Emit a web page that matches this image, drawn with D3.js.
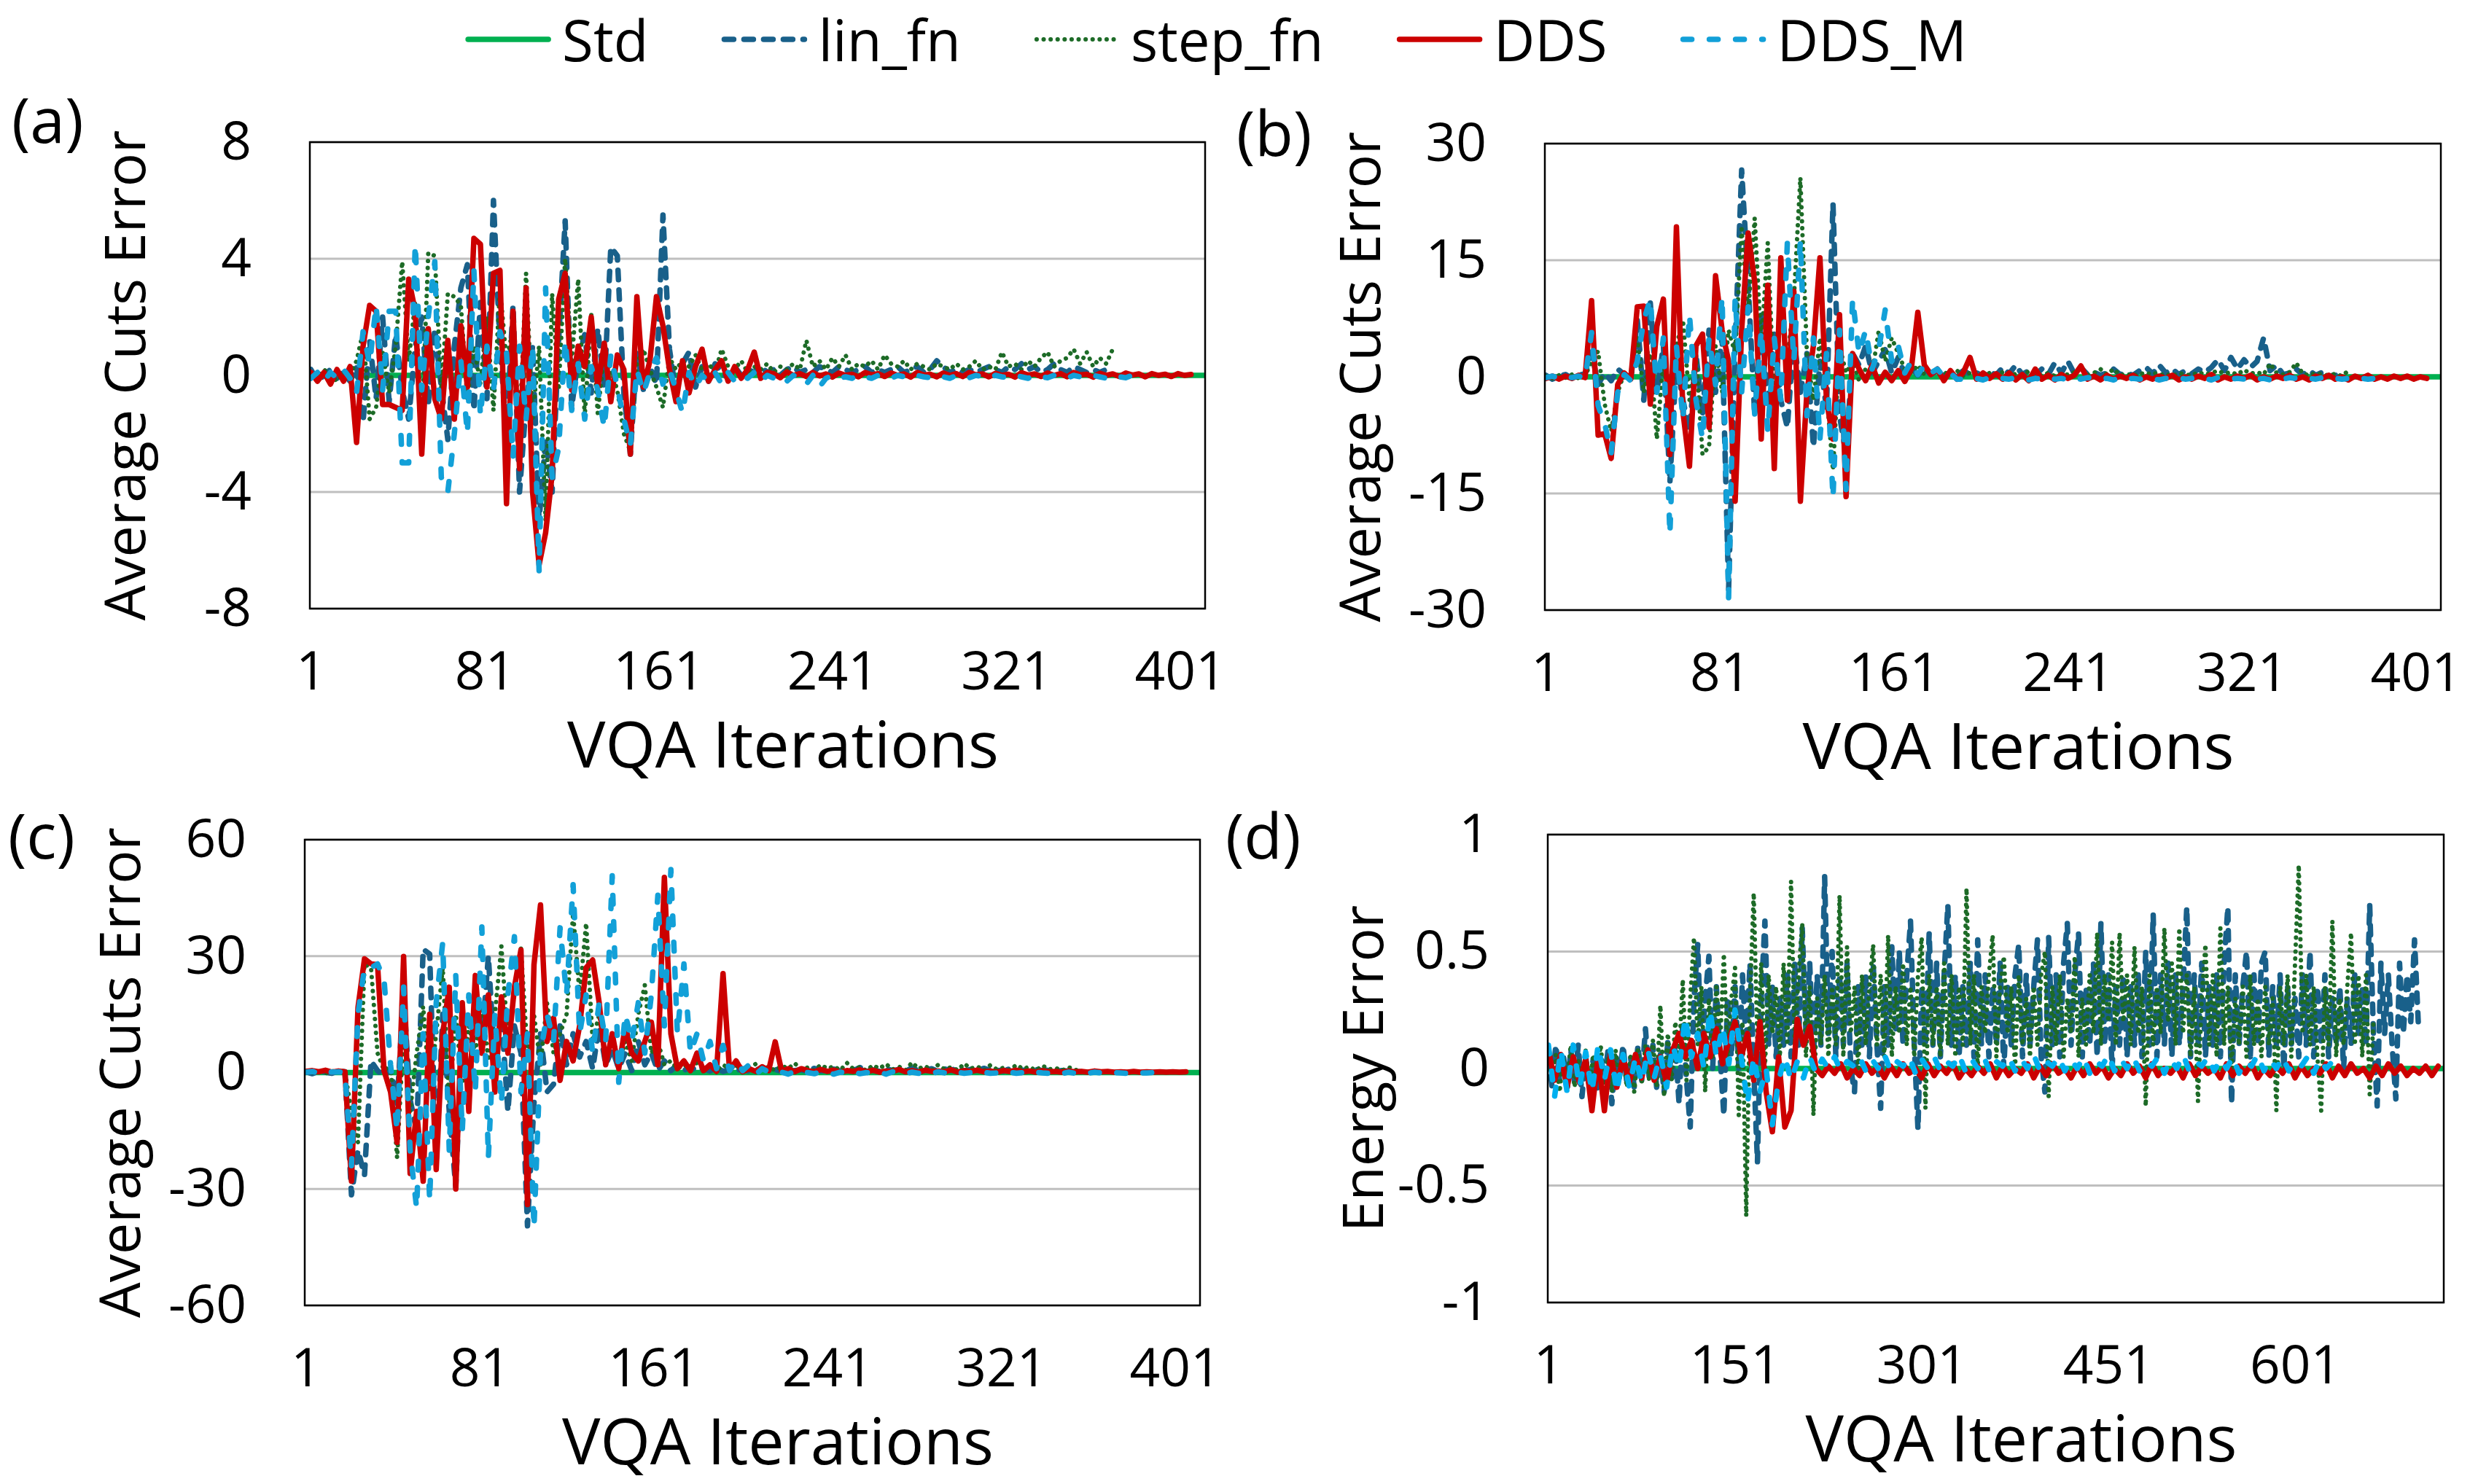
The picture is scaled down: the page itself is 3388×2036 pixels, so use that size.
<!DOCTYPE html>
<html>
<head>
<meta charset="utf-8">
<script src="https://cdn.jsdelivr.net/npm/d3@7"></script>
<style>
  body { margin: 0; background: #fff; }
  text { font-family: "Open Sans", sans-serif; fill: #000; }
</style>
</head>
<body>
<div class="chart"></div>
<script>
var seriesNames = ["Std", "lin_fn", "step_fn", "DDS", "DDS_M"];
var xTicks400 = [1, 81, 161, 241, 321, 401];
var xTicks720 = [1, 151, 301, 451, 601];
var yTicksA = [-8, -4, 0, 4, 8];
var yTicksB = [-30, -15, 0, 15, 30];
var yTicksC = [-60, -30, 0, 30, 60];
var yTicksD = [-1, -0.5, 0, 0.5, 1];

// sampling: every 3 iterations from 1 (panel d: DDS / DDS_M every 5)
var stepFine = 3;
var stepWide = 5;

var stdA = [0, 0];
var stdB = [0, 0];
var stdC = [0, 0];
var stdD = [0, 0];

var aLin = [0.2, -0.2, 0.0, 0.2, -0.1, 0.1, -0.2,
  0.3, -1.6, 1.2, -0.8, 2.0, -0.9, 1.4, -0.5, -1.5, 1.0, 2.0, -1.0, 1.6, -0.4, -2.2, 1.0, 3.0, 3.8, -1.2, 2.5, -0.8, 6.0, 1.0, -2.0,
  2.4, -4.0, -1.0, 1.0, -5.0, -2.2, -4.0, 1.2, 5.3, -1.1, 0.6, 1.4, -0.6, 1.6, -0.4, 4.4, 4.1, -0.6, -2.7, 0.8, -0.5, 0.3, -0.3, 5.5,
  0.9, -0.6, 0.4, 0.8, -0.4, 0.3, -0.2, 0.4, 0.1, -0.1, 0.3, 0.0, 0.2, 0.1, 0.3, 0.1, 0.2, 0.0, 0.2, 0.3, 0.1, 0.2, 0.1, 0.3, 0.2, 0.1,
  0.3, 0.2, 0.1, 0.2, 0.3, 0.1, 0.2, 0.1, 0.2, 0.3, 0.1, 0.2, 0.3, 0.1, 0.2, 0.5, 0.3, 0.1, 0.2, 0.1, 0.2, 0.1, 0.2, 0.3, 0.2, 0.1, 0.3,
  0.2, 0.4, 0.2, 0.3, 0.1, 0.2, 0.4, 0.2, 0.1, 0.3, 0.2, 0.1, 0.2, 0.1, 0.2, 0.1];
var aStep = [0.1, -0.1, 0.2, 0.0, -0.2, 0.1, 0.0,
  0.5, 1.5, -1.5, -1.1, 0.8, -0.6, 1.0, 3.9, 0.5, 2.5, -1.8, 4.2, 4.1, -0.5, 2.8, 2.7, 2.4, -0.8, 1.0, -0.3, 2.0, -1.2, 3.0, 0.5,
  1.6, -1.9, 3.5, -1.5, 1.0, -5.0, 2.8, -0.5, 4.0, 0.5, 3.3, -1.4, 2.1, -1.3, 0.8, 0.2, -0.5, -2.0, -2.6, 0.4, 0.9, 0.2, -0.4, -1.1,
  0.6, 0.2, 0.5, 0.3, 0.7, 0.2, 0.4, 0.1, 0.9, 0.3, 0.2, 0.5, 0.1, 0.3, 0.2, 0.4, 0.1, 0.3, 0.2, 0.4, 0.2, 1.2, 0.3, 0.5, 0.2, 0.6,
  0.3, 0.7, 0.2, 0.4, 0.3, 0.5, 0.2, 0.7, 0.4, 0.3, 0.5, 0.2, 0.4, 0.3, 0.2, 0.4, 0.3, 0.2, 0.4, 0.2, 0.3, 0.5, 0.2, 0.3, 0.2, 0.8,
  0.3, 0.4, 0.2, 0.5, 0.3, 0.6, 0.8, 0.3, 0.5, 0.6, 0.9, 0.4, 0.8, 0.3, 0.6, 0.4, 0.9];
var aDDS = [0.1, -0.2, 0.1, -0.3, 0.2, -0.2, 0.3,
  -2.3, 1.0, 2.4, 2.2, -1.0, -1.0, -1.1, -1.2, 3.3, 2.2, -2.7, 1.6, -0.8, -1.5, 1.2, -1.5, 1.7, -0.4, 4.7, 4.5, -0.4, 3.5, 3.6, -4.4,
  2.2, -3.2, 3.0, -4.0, -6.5, -5.4, -3.4, 2.6, 3.5, -0.5, 1.0, 0.3, 2.0, -0.4, 1.1, -0.9, 0.7, 0.2, -2.7, 2.7, -0.4, 0.5, 2.7, 1.7,
  0.2, -0.9, 0.5, -0.6, 0.3, 0.9, -0.2, 0.2, 0.5, -0.2, 0.3, -0.1, 0.2, 0.8, -0.1, 0.1,
  0.05, -0.08, 0.12, 0.0, 0.06, -0.04, 0.1, -0.02, 0.05, -0.06, 0.08, 0.0, 0.04, -0.05, 0.1, 0.02, 0.06, -0.04, 0.08, 0.0,
  0.05, -0.06, 0.1, 0.01, 0.04, -0.05, 0.08, 0.0, 0.06, -0.04, 0.1, 0.02, 0.05, -0.05, 0.07, 0.0, 0.04, -0.06, 0.09, 0.01,
  0.05, -0.04, 0.08, 0.0, 0.06, -0.05, 0.1, 0.02, 0.04, -0.06, 0.07, 0.0, 0.05, -0.04, 0.08, 0.01, 0.05, -0.05, 0.06, 0.0,
  0.04, -0.04, 0.06, 0.0, 0.03];
var aDdsm = [-0.1, 0.1, -0.2, 0.1, -0.1, 0.2, -0.1,
  -0.6, 1.5, 0.4, 2.4, -0.5, 2.2, 2.2, -3.0, -3.0, 4.5, -0.5, 2.0, 3.9, -3.5, -4.0, -2.0, 0.5, -2.0, 3.6, -1.4, 1.0, -0.5, 1.5, 0.8,
  -2.8, 1.0, -1.5, 1.0, -6.7, 3.0, -3.5, -2.5, 1.2, -1.2, 0.4, -1.5, 0.3, -0.5, -1.8, 0.7, -0.4, -1.5, -2.4, 0.2, -0.6, 0.1, 0.6, -0.3,
  0.2, -0.5, -1.3, 0.1, -0.4, 0.0, -0.2, 0.1, -0.3, 0.1, -0.2, 0.0, -0.1, 0.1, -0.2, 0.0, -0.1, 0.0, -0.2, 0.0, -0.1, -0.3, 0.0, -0.4,
  -0.1, 0.0, -0.1, -0.05, -0.1, 0.0, -0.05, -0.1, 0.0, -0.05, -0.1, 0.0, -0.05, -0.1, 0.0, -0.05, -0.08, 0.0, -0.05, -0.1, 0.0,
  -0.05, -0.08, 0.0, -0.05, -0.1, 0.0, -0.05, -0.08, 0.0, -0.05, -0.1, 0.0, -0.05, -0.08, 0.0, -0.05, -0.1, 0.0, -0.05, -0.08, 0.0,
  -0.05, -0.1, 0.0, -0.05, -0.08, 0.0, -0.05, -0.05];

var bLin = [0.2, -0.3, 0.1, 0.3, -0.2, 0.2, 0.4,
  3.2, -1.0, 0.5, -0.5, 1.0, 0.3, -0.5, 7.4, -3.0, 9.5, -2.0, 4.0, -13.6, 2.0, -3.0, -7.0, 3.0, -5.0, 6.0, -2.0, 5.0, -27.4, 4.0, 26.6,
  12.0, -5.0, 8.0, -4.0, 6.0, -3.0, -6.5, 5.0, -2.0, 3.0, -9.0, 2.0, -4.0, 22.3, -5.0, -10.0, 3.0, 1.5, 4.0, 0.5, 2.0, 3.5, 0.5, 2.5,
  0.3, 1.2, 0.2, 1.0, 0.3, 0.8, 0.1, 0.6, 0.2, 0.8, 0.3, 0.5, 0.1, 0.7, 0.2, 1.2, 0.4, 1.5, 0.3, 0.8, 0.2, 1.0, 0.3, 1.8, 0.5, 2.0,
  0.4, 1.2, 0.3, 0.6, 0.2, 0.5, 1.0, 0.3, 0.5, 0.2, 0.8, 1.2, 0.4, 1.5, 0.5, 1.0, 0.3, 0.8, 0.4, 1.0, 0.6, 1.2, 2.2, 0.8, 2.5, 1.0,
  2.2, 1.2, 2.0, 5.0, 0.8, 1.5, 0.3, 0.5, 1.0, 0.3, 0.8, 0.2, 0.6, 0.1, 0.2];
var bStep = [0.1, -0.2, 0.2, -0.1, 0.3, -0.2, 0.1,
  2.0, 3.3, -3.5, -7.0, -2.0, 0.5, -0.5, 5.0, -2.0, 3.0, -8.0, 2.0, -5.0, 4.0, 7.3, -3.0, 3.0, -10.0, -9.0, 4.0, -2.0, 6.0, 3.0, 19.0,
  8.0, 20.4, 4.0, 17.2, -3.0, 8.0, 2.0, 10.0, 25.6, 3.0, -3.0, 5.0, -2.0, -12.0, 4.0, 0.5, 2.0, -0.5, 1.0, 0.5, 5.9, 2.0, 5.0, 3.0,
  1.0, 0.5, 1.5, 0.3, 1.0, 0.2, 0.6, 0.2, 0.8, 0.1, 0.5,
  0.3, 0.1, 0.5, 0.2, 0.6, 0.1, 0.4, 0.2, 0.7, 0.3, 0.2, 0.5, 0.1, 0.4, 0.3, 0.6, 1.3, 0.2, 0.5, 1.0, 0.3, 1.0, 0.2, 0.4, 0.1, 0.5,
  0.3, 0.6, 0.2, 0.4, 0.1, 0.5, 0.3, 0.2, 0.6, 0.3, 0.5, 0.8, 0.4, 0.6, 0.3, 0.9, 0.4, 0.6, 0.3, 1.7, 0.5, 0.3, 0.6, 1.8, 0.4, 0.2,
  0.5, 0.3, 0.2, 0.4, 0.1, 0.8];
var bDDS = [-0.2, 0.1, -0.3, 0.1, -0.2, 0.2, -0.1,
  9.8, -7.5, -7.3, -10.5, -1.0, 0.5, -0.3, 9.0, 9.1, -3.5, 6.5, 10.0, -10.0, 19.3, -4.5, -11.5, 4.0, 5.5, -6.5, 13.0, 6.0, 2.0, -16.0,
  6.0, 18.5, 12.2, -8.0, 11.8, -11.8, 15.3, -3.0, 11.0, -16.0, -2.0, 4.0, 15.3, -3.0, -8.0, 8.0, -15.4, 3.0, 1.0, -0.5, 1.5, -0.8,
  0.6, -0.5, 0.8, -0.6, 1.0, 8.3, 1.5, 0.3, 1.0, -0.5, 0.8, -0.3, 0.6, 2.5, -0.3, 0.5, -0.2, 0.4, -0.3,
  0.5, -0.4, 0.3, -0.5, 1.0, -0.3, 0.2, -0.4, 0.3, -0.2, 0.2, 1.4, -0.3, 0.1, -0.4, 0.2, -0.3, 0.1, -0.2, 0.2, -0.4, 0.0, -0.3, 0.1,
  -0.2, 0.2, -0.4, 0.0, -0.3, 0.1, -0.2, 0.3, -0.4, 0.0, -0.3, 0.1, -0.2, 0.2, -0.4, 0.0, -0.3, 0.1, -0.2, 0.2, -0.3, 0.0, -0.4, 0.1,
  -0.2, 0.2, -0.3, 0.0, -0.4, 0.1, -0.2, 0.2, -0.3, 0.0, -0.3, 0.1, -0.2, 0.1, -0.3, 0.0, -0.2];
var bDdsm = [-0.1, 0.1, -0.2, 0.0, -0.1, 0.1, -0.2,
  5.7, -3.7, -6.0, -9.8, -2.0, 0.3, -0.5, 2.0, 7.3, 10.0, -2.0, 5.0, -20.3, 4.0, -5.5, 8.0, -3.0, -8.0, 5.0, -1.0, 10.3, -28.4, 10.0,
  -2.0, 9.0, -4.8, 6.0, -7.0, 5.0, -3.0, 17.2, 2.0, 17.5, -5.0, 5.0, -8.0, 3.0, -15.6, 6.0, -14.5, 10.0, 3.0, 6.0, 1.0, 3.5, 8.6,
  2.0, 4.0, 0.5, 2.0, 0.3, 1.5, 0.5, 1.0, 0.0, 0.5, -0.3,
  -0.3, -0.1, -0.2, -0.4, -0.1, -0.3, -0.2, -0.3, -0.1, -0.2, -0.4, -0.2, -0.3, -0.1, -0.3, -0.2, -0.4, -0.2, -0.3, -0.1, -0.2, -0.3,
  -0.2, -0.4, -0.1, -0.3, -0.2, -0.3, -0.1, -0.2, -0.4, -0.2, -0.3, -0.1, -0.3, -0.2, -0.3, -0.2, -0.4, -0.1, -0.2, -0.3, -0.2, -0.3,
  -0.1, -0.3, -0.2, -0.4, -0.2, -0.3, -0.1, -0.2, -0.3, -0.2, -0.3, -0.1, -0.3, -0.2, -0.3, -0.2, -0.3, -0.2, -0.3, -0.2, -0.3, -0.2];

var cLin = [0.2, -0.3, 0.4, 0.1, -0.2, 0.5, 0.2,
  -31.5, -20.0, -26.5, 3.0, 0.5, -1.0, 1.0, -8.0, 20.0, -7.0, -15.0, 31.8, 30.5, -23.0, 15.0, -10.0, -29.5, 12.0, -5.0, 18.0, 8.0,
  30.0, 2.0, 15.0, -10.0, 12.0, 5.0, -39.5, -8.0, 10.0, -5.0, -3.0, 12.0, 2.0, 10.0, 4.0, 8.0, 1.0, 12.0, 2.0, 6.0, 1.0, 5.0, 0.5,
  8.0, 2.0, 5.0, 0.5, 3.0, 0.5, 2.0, 0.5, 1.5, 0.3, 1.0,
  0.4, 1.2, 0.3, 0.8, 0.5, 1.0, 0.3, 0.6, 1.2, 0.4, 0.8, 0.3, 1.0, 0.5, 0.7, 0.3, 1.1, 0.4, 0.6, 0.9, 0.3, 0.8, 0.5, 1.3, 0.4, 0.7,
  0.3, 1.0, 0.5, 0.8, 0.3, 1.2, 0.4, 0.6, 1.0, 0.3, 0.9, 0.5, 1.4, 0.4, 0.8, 0.3, 1.1, 0.5, 0.7, 0.3, 1.0, 0.4, 0.6, 0.3, 0.8, 0.5,
  0.7, 0.3, 0.5, 0.4, 0.3, 0.2];
var cStep = [0.2, 0.0, 0.3, -0.2, 0.4, 0.1, 0.3,
  -10.0, -18.0, 28.0, 27.0, 5.0, 0.5, 2.0, -22.0, 10.0, -10.0, 5.0, 17.0, -5.0, 10.0, 27.0, -8.0, 15.0, -3.0, 12.0, 5.0, 18.0, 3.0,
  15.0, 32.5, 8.0, 20.0, 32.0, 5.0, 15.0, 2.0, 18.0, 5.0, 10.0, 15.0, 41.0, 20.0, 38.5, 8.0, 15.0, 3.0, 10.0, 2.0, 8.0, 3.0, 15.0,
  22.5, 5.0, 8.0, 2.0, 3.0, 1.0, 2.0,
  1.0, 2.5, 0.8, 1.5, 0.5, 2.0, 1.0, 1.8, 0.6, 1.2, 2.2, 0.8, 1.5, 0.5, 1.8, 1.0, 2.4, 0.7, 1.3, 0.5, 2.0, 1.0, 1.6, 0.6, 2.5, 0.9,
  1.4, 0.5, 1.9, 1.0, 2.2, 0.8, 1.5, 0.6, 2.6, 1.0, 1.7, 0.5, 2.0, 0.8, 1.4, 0.6, 2.3, 1.0, 1.6, 0.5, 1.9, 0.8, 1.2, 0.6, 2.0, 0.9,
  1.5, 0.5, 1.8, 0.8, 1.2, 0.5, 1.4, 0.6, 1.0];
var cDDS = [0.3, 0.5, 0.2, 0.6, 0.1, 0.4, 0.2,
  -28.0, 16.7, 29.3, 28.0, 27.8, 0.5, -5.0, -18.0, 29.9, -26.0, -10.0, -28.0, 15.0, -25.0, 10.0, 22.0, -30.0, 18.0, -10.0, 25.0, 5.0,
  20.0, -5.0, 19.5, 5.0, 22.0, 31.6, -34.0, 27.8, 43.2, 8.0, 14.0, -2.0, 8.0, 3.0, 12.0, 27.0, 29.0, 18.0, 2.0, 10.0, 1.0, 12.0, 5.0,
  3.0, 8.0, 13.0, 2.0, 50.3, 10.0, 1.0, 3.0, 0.5, 5.0, 0.5, 2.0, 0.3, 25.5, 0.5, 3.0, 0.2, 1.0, 0.3, 1.5, 0.5, 7.9, 0.3, 1.0, 0.2, 1.0,
  0.5, 0.2, 0.8, 0.3, 0.6, 0.1, 0.5, 0.3, 0.7, 0.2, 0.6, 0.1, 0.4, 0.3, 0.8, 0.2, 0.5, 0.1, 0.6, 0.3, 0.4, 0.2, 0.7, 0.1, 0.5, 0.3,
  0.6, 0.2, 0.4, 0.1, 0.5, 0.3, 0.6, 0.2, 0.4, 0.1, 0.5, 0.2, 0.3, 0.1, 0.4, 0.2, 0.3, 0.1, 0.4, 0.2, 0.3, 0.1, 0.2, 0.1, 0.3, 0.1,
  0.2, 0.1, 0.2, 0.1, 0.2, 0.1, 0.2];
var cDdsm = [0.1, 0.3, -0.2, 0.4, 0.1, 0.2, -0.1,
  -24.0, 15.0, 27.0, 27.0, 28.0, 24.0, 2.0, -15.0, 22.0, -20.0, -35.0, 10.0, -33.0, 18.0, 33.5, -20.0, 25.0, -15.0, 20.0, -5.0, 37.5,
  -22.0, 15.0, -8.0, 20.0, 35.0, -5.0, 10.0, -40.0, 5.0, 15.0, 8.0, 37.3, 20.0, 48.4, 10.0, 20.0, 5.0, 18.0, 8.0, 50.7, -2.5, 15.0,
  8.0, 18.0, 5.0, 20.0, 45.7, 12.0, 52.3, 10.0, 28.0, 5.0, 10.0, 3.0, 8.0, 1.0, 7.0, 0.5, 3.0, 0.5, 2.0, -0.5, 1.0,
  0.2, -0.3, 0.1, -0.4, 0.3, -0.2, 0.0, -0.3, 0.2, -0.1, -0.4, 0.1, -0.2, 0.2, -0.3, 0.0, -0.2, 0.1, -0.4, 0.2, -0.1, -0.3, 0.1,
  -0.2, 0.0, -0.3, 0.2, -0.1, -0.4, 0.1, -0.2, 0.0, -0.3, 0.1, -0.2, -0.1, -0.3, 0.1, -0.2, 0.0, -0.3, 0.1, -0.1, -0.2, 0.0, -0.3,
  0.1, -0.2, 0.0, -0.2, 0.1, -0.1, -0.2, 0.0, -0.1, -0.2, 0.0, -0.1, -0.1, 0.0, -0.1, -0.1];

// panel d: lin_fn and step_fn every 3 iterations
var dLin = [0.05, -0.08, 0.1, -0.05, 0.06, -0.1, 0.08, -0.06, 0.1, -0.12, 0.05, -0.08, 0.04, -0.1, 0.06, -0.05, 0.08, -0.15,
  0.06, -0.04, 0.1, -0.06, 0.05, -0.08, 0.1, -0.05, 0.17, -0.04, 0.1, -0.08, 0.06, -0.1, 0.12, -0.06,
  0.1, -0.15, 0.2, -0.05, -0.25, 0.3, 0.53, 0.05, 0.3, 0.48, 0.0, 0.35, 0.05, -0.2, 0.3, 0.05, 0.35, 0.0, 0.4, 0.1, 0.45, 0.0, -0.4,
  0.3, 0.63, 0.1, 0.35, 0.05, 0.3, 0.1, 0.4, 0.05, 0.45, 0.1, 0.6, 0.15, 0.45, 0.05, 0.4, 0.1, 0.82, 0.15, 0.5, 0.05, 0.4, 0.1, 0.45,
  0.0, -0.1, 0.35, 0.1, 0.4, 0.05, 0.45, 0.1, -0.17, 0.35, 0.1, 0.52, 0.15, 0.5, 0.1, 0.4, 0.63, 0.1, -0.26, 0.35, 0.1, 0.58, 0.1,
  0.45, 0.05, 0.4, 0.7, 0.1, 0.4, 0.05, 0.35, 0.1, 0.45, 0.05, 0.55, 0.1, 0.4, 0.05, 0.35, 0.1, 0.45, 0.0, 0.35, 0.1, 0.4, 0.53,
  0.05, 0.4, 0.1, 0.35, 0.55, 0.05, -0.1, 0.56, 0.1, 0.4, 0.05, 0.45, 0.62, 0.1, 0.4, 0.58, 0.05, 0.35, 0.1, 0.45, 0.05, 0.62, 0.1,
  0.4, 0.0, 0.35, 0.1, 0.4, 0.05, 0.35, 0.1, 0.4, 0.05, 0.5, 0.1, 0.66, 0.05, 0.4, 0.1, 0.45, 0.05, 0.4, 0.1, 0.35, 0.69, 0.05, 0.4,
  0.1, 0.45, 0.05, 0.35, 0.1, 0.4, 0.05, 0.45, 0.69, -0.15, 0.4, 0.1, 0.35, 0.5, 0.05, 0.4, 0.1, 0.45, 0.5, 0.05, 0.35, 0.1, 0.4,
  0.0, 0.35, 0.1, 0.3, 0.05, 0.4, 0.1, 0.5, 0.05, 0.35, 0.1, 0.4, 0.05, 0.3, 0.1, 0.35, 0.0, 0.3, 0.1, 0.4, 0.15, 0.35, 0.1, 0.7,
  0.15, -0.16, 0.45, 0.15, 0.4, 0.1, -0.13, 0.45, 0.15, 0.4, 0.2, 0.55, 0.2];
var dStep = [0.08, -0.05, 0.06, -0.1, 0.05, -0.06, 0.1, -0.08, 0.04, -0.05, 0.08, -0.1, 0.06, -0.04, 0.1, -0.06, 0.05, -0.1,
  0.08, -0.05, 0.06, -0.08, 0.05, -0.1, 0.08, -0.06, 0.1, -0.05, 0.12, -0.08,
  0.27, -0.12, 0.15, -0.05, 0.2, 0.05, 0.38, -0.05, 0.3, 0.56, 0.1, 0.35, -0.1, 0.3, 0.05, 0.35, 0.1, 0.49, 0.05, 0.3, 0.43, -0.2,
  0.2, -0.63, 0.3, 0.75, 0.1, 0.45, 0.0, 0.4, 0.15, 0.35, 0.05, 0.45, 0.1, 0.8, 0.1, 0.4, 0.62, 0.05, 0.35, -0.2, 0.3, 0.1, 0.4,
  0.05, 0.35, 0.1, 0.74, 0.05, 0.52, 0.15, 0.35, 0.0, 0.4, 0.1, 0.35, 0.53, 0.1, 0.4, 0.05, 0.57, 0.05, 0.35, 0.15, 0.45, 0.1, 0.35,
  0.05, 0.4, 0.56, -0.17, 0.4, 0.1, 0.35, 0.05, 0.45, 0.1, 0.4, 0.05, 0.35, 0.1, 0.77, 0.1, 0.4, 0.0, 0.35, 0.15, 0.4, 0.57, 0.05,
  0.35, 0.48, 0.15, 0.35, 0.0, 0.4, 0.1, 0.3, 0.05, 0.35, 0.1, 0.4, 0.5, -0.12, 0.35, 0.1, 0.4, 0.05, 0.3, 0.15, 0.48, 0.05, 0.3,
  0.1, 0.4, 0.15, 0.58, 0.1, 0.4, 0.2, 0.54, 0.1, 0.58, 0.2, 0.4, 0.1, 0.52, 0.15, 0.35, -0.16, 0.4, 0.1, 0.35, 0.15, 0.6, 0.2, 0.45,
  0.1, 0.6, 0.15, 0.4, 0.05, 0.35, -0.14, 0.3, 0.53, 0.1, 0.4, 0.05, 0.6, 0.1, 0.35, 0.0, 0.3, 0.1, 0.35, 0.05, 0.4, 0.1, 0.3, 0.05,
  0.35, 0.1, 0.3, -0.18, 0.35, 0.1, 0.4, 0.05, 0.45, 0.87, 0.15, 0.4, 0.1, 0.35, 0.05, -0.18, 0.35, 0.1, 0.63, 0.05, 0.3, 0.1, 0.35,
  0.58, 0.1, 0.4, 0.05, 0.4, -0.11, 0.2];
// panel d: DDS and DDS_M every 5 iterations
var dDDS = [0.08, -0.05, 0.06, -0.08, 0.05, -0.06, 0.04, -0.18, 0.05, -0.18, 0.06, -0.08, 0.05, -0.06, 0.06, -0.04, 0.08, -0.05,
  0.05, -0.06, 0.08, 0.15, 0.05, 0.12, 0.0, 0.15, 0.05, 0.17, 0.02, 0.12, 0.2, 0.05, 0.15, -0.05, 0.2, -0.1, -0.27, 0.05, -0.25,
  -0.18, 0.21, 0.1, 0.18, 0.0,
  -0.03, 0.01, -0.02, 0.02, -0.04, 0.0, -0.03, 0.02, -0.02, 0.01, -0.04, 0.01, -0.03, 0.02, -0.02, 0.0, -0.04, 0.02, -0.03, 0.01,
  -0.02, 0.02, -0.04, 0.0, -0.03, 0.01, -0.02, 0.02, -0.04, 0.01, -0.03, 0.0, -0.02, 0.02, -0.04, 0.01, -0.03, 0.02, -0.02, 0.0,
  -0.04, 0.01, -0.03, 0.02, -0.02, 0.01, -0.04, 0.0, -0.03, 0.02, -0.02, 0.01, -0.04, 0.02, -0.03, 0.0, -0.02, 0.01, -0.04, 0.02,
  -0.03, 0.01, -0.02, 0.0, -0.04, 0.02, -0.03, 0.01, -0.02, 0.02, -0.04, 0.0, -0.03, 0.01, -0.02, 0.02, -0.04, 0.01, -0.03, 0.0,
  -0.02, 0.02, -0.04, 0.01, -0.03, 0.02, -0.02, 0.0, -0.04, 0.01, -0.03, 0.02, -0.02, 0.01, -0.03, 0.0, -0.02, 0.01, -0.03, 0.01];
var dDdsm = [0.1, -0.12, 0.08, -0.1, 0.1, -0.08, 0.07, -0.1, 0.1, -0.05, 0.08, -0.1, 0.06, -0.08, 0.05, -0.06, 0.08, -0.04, 0.06,
  -0.08, 0.1, 0.0, 0.22, 0.05, 0.15, 0.0, 0.25, 0.05, 0.18, 0.02, 0.25, 0.05, -0.15, 0.05, -0.1, 0.0, -0.24, -0.05, 0.05, -0.05, 0.03,
  -0.04, 0.05, -0.02,
  0.04, 0.0, 0.05, -0.01, 0.03, 0.01, 0.05, -0.01, 0.04, 0.0, 0.06, -0.01, 0.03, 0.01, 0.05, -0.02, 0.04, 0.0, 0.05, -0.01, 0.03,
  0.01, 0.06, -0.01, 0.04, 0.0, 0.05, -0.02, 0.03, 0.01, 0.05, -0.01, 0.04, 0.0, 0.06, -0.01, 0.03, 0.01, 0.05, -0.01, 0.04, 0.0,
  0.05, -0.02, 0.03, 0.01, 0.06, -0.01, 0.04, 0.0, 0.05, -0.01, 0.03, 0.01, 0.05, -0.02, 0.04, 0.0, 0.06, -0.01, 0.03, 0.01, 0.05,
  -0.01, 0.04, 0.0, 0.05, -0.02, 0.03, 0.01, 0.06, -0.01, 0.04, 0.0, 0.05, -0.01, 0.03, 0.01, 0.05, -0.02, 0.04, 0.0, 0.03];

// ---- drawing ----
var svgWidth = 3388;
var svgHeight = 2036;

var svg = d3.select(".chart")
    .append("svg")
    .attr("width", svgWidth)
    .attr("height", svgHeight);

var styles = {
    Std: { color: "#00b050", width: 7.5, dash: null },
    lin_fn: { color: "#19608a", width: 7.5, dash: "13,14" },
    step_fn: { color: "#1d6b27", width: 6, dash: "0.1,9.5" },
    DDS: { color: "#cc0000", width: 7.5, dash: null },
    DDS_M: { color: "#12a0d8", width: 7.5, dash: "12,24" }
};

var panels = [
    { tag: "(a)", tagPos: [16, 196], box: { x: 425, y: 195, w: 1228, h: 640 }, n: 412,
      steps: { lin_fn: stepFine, step_fn: stepFine, DDS: stepFine, DDS_M: stepFine },
      xTicks: xTicks400, yDomain: [-8, 8], yTicks: yTicksA, yTitle: "Average Cuts Error",
      data: { Std: stdA, lin_fn: aLin, step_fn: aStep, DDS: aDDS, DDS_M: aDdsm } },
    { tag: "(b)", tagPos: [1696, 214], box: { x: 2119, y: 197, w: 1229, h: 640 }, n: 412,
      steps: { lin_fn: stepFine, step_fn: stepFine, DDS: stepFine, DDS_M: stepFine },
      xTicks: xTicks400, yDomain: [-30, 30], yTicks: yTicksB, yTitle: "Average Cuts Error",
      data: { Std: stdB, lin_fn: bLin, step_fn: bStep, DDS: bDDS, DDS_M: bDdsm } },
    { tag: "(c)", tagPos: [11, 1178], box: { x: 418, y: 1152, w: 1228, h: 639 }, n: 412,
      steps: { lin_fn: stepFine, step_fn: stepFine, DDS: stepFine, DDS_M: stepFine },
      xTicks: xTicks400, yDomain: [-60, 60], yTicks: yTicksC, yTitle: "Average Cuts Error",
      data: { Std: stdC, lin_fn: cLin, step_fn: cStep, DDS: cDDS, DDS_M: cDdsm } },
    { tag: "(d)", tagPos: [1681, 1178], box: { x: 2123, y: 1145, w: 1229, h: 642 }, n: 720,
      steps: { lin_fn: stepFine, step_fn: stepFine, DDS: stepWide, DDS_M: stepWide },
      xTicks: xTicks720, yDomain: [-1, 1], yTicks: yTicksD, yTitle: "Energy Error", ddsmColor: "#00b0f0",
      data: { Std: stdD, lin_fn: dLin, step_fn: dStep, DDS: dDDS, DDS_M: dDdsm } }
];

panels.forEach(function (p, pi) {
    var g = svg.append("g")
        .attr("transform", `translate(${p.box.x}, ${p.box.y})`);

    var xScale = d3.scaleLinear().domain([0.5, p.n + 0.5]).range([0, p.box.w]);
    var yScale = d3.scaleLinear().domain(p.yDomain).range([p.box.h, 0]);

    // gridlines
    g.selectAll(".grid")
        .data(p.yTicks)
        .enter()
        .append("line")
        .attr("x1", 0)
        .attr("x2", p.box.w)
        .attr("y1", d => yScale(d))
        .attr("y2", d => yScale(d))
        .attr("stroke", "#bfbfbf")
        .attr("stroke-width", 3);

    g.append("clipPath").attr("id", "clip" + pi)
        .append("rect").attr("width", p.box.w).attr("height", p.box.h);

    var plot = g.append("g").attr("clip-path", `url(#clip${pi})`);

    seriesNames.forEach(function (name) {
        var vals = p.data[name];
        var st = name === "Std" ? p.n - 1 : p.steps[name];
        var line = d3.line()
            .x((d, i) => xScale(1 + i * st))
            .y(d => yScale(d));
        var s = styles[name];
        plot.append("path")
            .attr("d", line(vals))
            .attr("fill", "none")
            .attr("stroke", name === "DDS_M" && p.ddsmColor ? p.ddsmColor : s.color)
            .attr("stroke-width", s.width)
            .attr("stroke-dasharray", s.dash)
            .attr("stroke-linecap", "round")
            .attr("stroke-linejoin", "round");
    });

    // plot border
    g.append("rect")
        .attr("width", p.box.w)
        .attr("height", p.box.h)
        .attr("fill", "none")
        .attr("stroke", "#000")
        .attr("stroke-width", 2.5);

    // axes
    var bottomAxis = d3.axisBottom(xScale)
        .tickValues(p.xTicks)
        .tickFormat(d => String(d))
        .tickSize(0)
        .tickPadding(59);
    var leftAxis = d3.axisLeft(yScale)
        .tickValues(p.yTicks)
        .tickFormat(d => String(d))
        .tickSize(0)
        .tickPadding(80);

    var xAx = g.append("g")
        .attr("transform", `translate(0, ${p.box.h})`)
        .call(bottomAxis);
    var yAx = g.append("g").call(leftAxis);

    [xAx, yAx].forEach(function (ax) {
        ax.select(".domain").remove();
        ax.attr("font-family", null).attr("font-size", null);
        ax.selectAll("text")
            .style("font-family", "'Open Sans', sans-serif")
            .style("font-size", "73px")
            .attr("fill", "#000");
    });

    // axis titles
    g.append("text")
        .attr("x", p.box.w / 2 + 35)
        .attr("y", p.box.h + 218)
        .attr("text-anchor", "middle")
        .style("font-size", "88px")
        .text("VQA Iterations");

    g.append("text")
        .attr("transform", `translate(-226, ${p.box.h / 2}) rotate(-90)`)
        .attr("text-anchor", "middle")
        .style("font-size", "77px")
        .text(p.yTitle);

    svg.append("text")
        .attr("x", p.tagPos[0])
        .attr("y", p.tagPos[1])
        .style("font-size", "86px")
        .text(p.tag);
});

// legend
var legend = svg.append("g");
var cursor = 0;
seriesNames.forEach(function (name) {
    var s = styles[name];
    var item = legend.append("g").attr("transform", `translate(${cursor}, 0)`);
    item.append("line")
        .attr("x1", 4).attr("x2", 114)
        .attr("y1", 54).attr("y2", 54)
        .attr("stroke", s.color)
        .attr("stroke-width", name === "step_fn" ? 6 : 7.5)
        .attr("stroke-dasharray", s.dash)
        .attr("stroke-linecap", "round");
    var t = item.append("text")
        .attr("x", 133)
        .attr("y", 84)
        .style("font-size", "78px")
        .text(name);
    cursor += 133 + t.node().getComputedTextLength() + 100;
});
var legendWidth = cursor - 100;
legend.attr("transform", `translate(${1668 - legendWidth / 2}, 0)`);
</script>
</body>
</html>
